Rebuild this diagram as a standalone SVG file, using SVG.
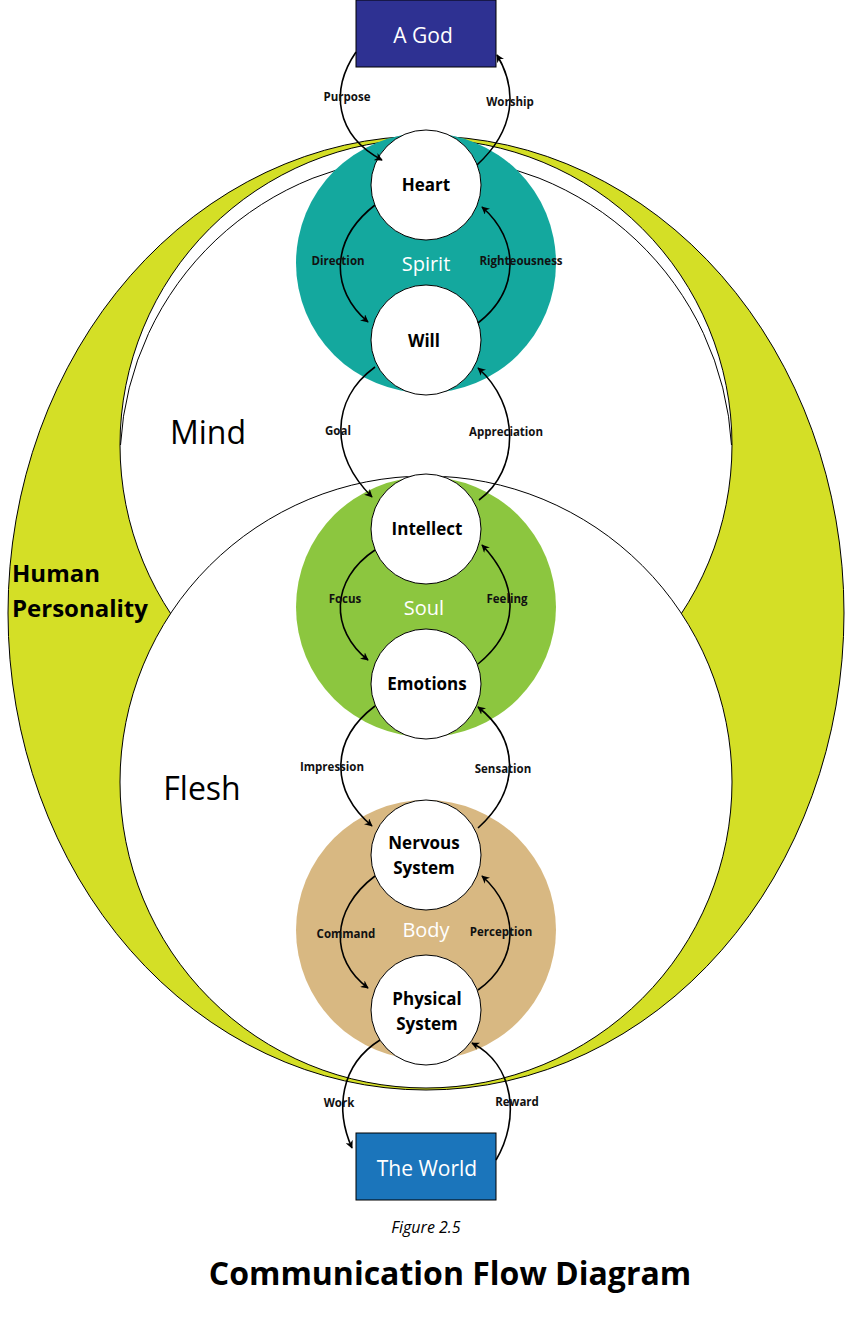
<svg xmlns="http://www.w3.org/2000/svg" width="853" height="1338" viewBox="0 0 853 1338">
<defs>
<marker id="ah" viewBox="0 0 10 10" refX="9" refY="5" markerWidth="8" markerHeight="8" orient="auto" markerUnits="userSpaceOnUse"><path d="M0,0 L10,5 L0,10 L3,5 z" fill="#000"/></marker>
<style>
text{font-family:"Open Sans","Liberation Sans",sans-serif}
.n{fill:#fff;stroke:#000;stroke-width:1}
.nl{font-size:17px;font-weight:bold;text-anchor:middle;fill:#000}
.al{font-size:11.5px;font-weight:bold;text-anchor:middle;fill:#111}
.gl{font-size:20px;fill:#fff;text-anchor:middle}
.c path{fill:none;stroke:#000;stroke-width:1.6;marker-end:url(#ah)}
</style>
</defs>
<rect width="853" height="1338" fill="#fff"/>
<g id="personality">
<ellipse cx="426" cy="613" rx="418" ry="477" fill="#d4df26" stroke="#000" stroke-width="1"/>
<circle cx="426" cy="445" r="306" fill="#fff" stroke="#000" stroke-width="1"/>
<circle cx="426" cy="782" r="306" fill="#fff" stroke="#000" stroke-width="1"/>
<path d="M120.5,445 A306,306 0 0 1 731.5,445" fill="none" stroke="#000" stroke-width="1"/>
<text x="12" y="582" font-size="24" font-weight="bold">Human</text>
<text x="12" y="617" font-size="24" font-weight="bold">Personality</text>
<text x="208" y="444" font-size="32" text-anchor="middle">Mind</text>
<text x="202" y="800" font-size="32" text-anchor="middle">Flesh</text>
</g>
<g id="spirit"><circle cx="426" cy="263" r="130" fill="#14a89e"/><text class="gl" x="426" y="271">Spirit</text></g>
<g id="soul"><circle cx="426" cy="607" r="130" fill="#8cc63f"/><text class="gl" x="424" y="615">Soul</text></g>
<g id="body"><circle cx="426" cy="930" r="130" fill="#d8b882"/><text class="gl" x="426" y="937">Body</text></g>
<g id="god"><rect x="356" y="0" width="140" height="67" fill="#2e3192" stroke="#000" stroke-width="1"/><text x="423" y="43" font-size="21" fill="#fff" text-anchor="middle">A God</text></g>
<g id="world"><rect x="356" y="1133" width="140" height="67" fill="#1b75bb" stroke="#000" stroke-width="1"/><text x="427" y="1176" font-size="21" fill="#fff" text-anchor="middle">The World</text></g>
<g id="heart"><circle class="n" cx="426" cy="185" r="55"/><text class="nl" x="426" y="191">Heart</text></g>
<g id="will"><circle class="n" cx="426" cy="340" r="55"/><text class="nl" x="424" y="347">Will</text></g>
<g id="intellect"><circle class="n" cx="426" cy="529" r="55"/><text class="nl" x="427" y="535">Intellect</text></g>
<g id="emotions"><circle class="n" cx="426" cy="684" r="55"/><text class="nl" x="427" y="690">Emotions</text></g>
<g id="nervous"><circle class="n" cx="426" cy="855" r="55"/><text class="nl" x="424" y="849">Nervous</text><text class="nl" x="424" y="874">System</text></g>
<g id="physical"><circle class="n" cx="426" cy="1010" r="55"/><text class="nl" x="427" y="1005">Physical</text><text class="nl" x="427" y="1030">System</text></g>
<g class="c" id="connectors">
<path d="M356,52 C330,90 335,135 382,160"/>
<path d="M477,165 C515,130 518,90 497,55"/>
<path d="M375,205 C330,240 330,290 368,322"/>
<path d="M478,323 C520,290 520,240 482,207"/>
<path d="M375,367 C330,400 330,455 372,497"/>
<path d="M479,500 C520,470 520,405 478,368"/>
<path d="M375,550 C330,580 330,630 368,660"/>
<path d="M478,664 C520,630 520,585 482,545"/>
<path d="M375,706 C330,740 330,790 372,826"/>
<path d="M478,828 C520,790 520,740 478,707"/>
<path d="M375,876 C330,910 330,960 368,988"/>
<path d="M478,990 C520,960 520,910 482,876"/>
<path d="M380,1040 C340,1065 335,1110 352,1148"/>
<path d="M496,1160 C520,1120 515,1065 472,1043"/>
</g>
<g id="labels">
<text class="al" x="347" y="101">Purpose</text>
<text class="al" x="510" y="106">Worship</text>
<text class="al" x="338" y="265">Direction</text>
<text class="al" x="521" y="265">Righteousness</text>
<text class="al" x="338" y="435">Goal</text>
<text class="al" x="506" y="436">Appreciation</text>
<text class="al" x="345" y="603">Focus</text>
<text class="al" x="507" y="603">Feeling</text>
<text class="al" x="332" y="771">Impression</text>
<text class="al" x="503" y="773">Sensation</text>
<text class="al" x="346" y="938">Command</text>
<text class="al" x="501" y="936">Perception</text>
<text class="al" x="339" y="1107">Work</text>
<text class="al" x="517" y="1106">Reward</text>
</g>
<text x="426" y="1233" font-size="16" font-style="italic" text-anchor="middle">Figure  2.5</text>
<text x="450" y="1285" font-size="32" font-weight="bold" text-anchor="middle">Communication Flow Diagram</text>
</svg>
